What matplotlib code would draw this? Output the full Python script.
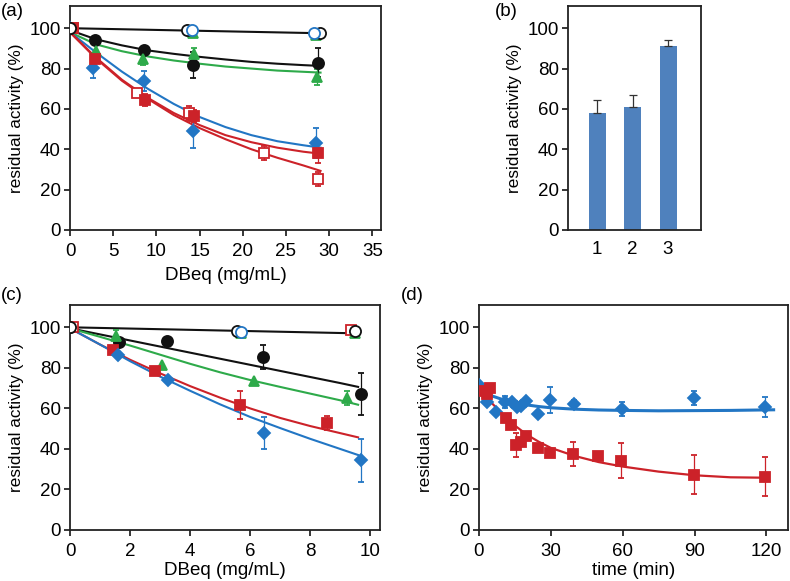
import matplotlib
matplotlib.use("Agg")
import matplotlib.pyplot as plt
import numpy as np

plt.rcParams['font.family'] = ['Liberation Sans', 'DejaVu Sans']

BLACK = '#111111'
BLUE = '#2276c4'
RED = '#cc2229'
GREEN = '#2eaa4a'
BAR = '#4f81bd'

# ---------------- Panel (a) data ----------------
a_flat_x = [0, 29]
a_flat_y = [100, 97.5]
a_open_black_x = [0, 13.6, 28.9]
a_open_black_y = [100, 99.2, 97.7]
a_open_blue_x = [14.1, 28.3]
a_open_blue_y = [99.0, 97.5]
a_green_flat_x = [14.2, 28.5]
a_green_flat_y = [97.5, 96.5]

a_black_x = [0, 2.9, 8.6, 14.2, 28.7]
a_black_y = [100, 94.3, 89.4, 81.8, 83.0]
a_black_e = [0, 0, 0, 6.5, 7]
a_green_x = [0, 3.0, 8.5, 14.3, 28.6]
a_green_y = [100, 88.6, 84.8, 87.0, 75.7]
a_green_e = [0, 0, 3, 3, 4]
a_blue_x = [0, 2.7, 8.6, 14.2, 28.5]
a_blue_y = [100, 80.5, 73.8, 49.3, 43.2]
a_blue_e = [0, 5, 5, 8.5, 7.5]
a_red_x = [0.3, 2.9, 8.7, 14.4, 28.7]
a_red_y = [100, 84.7, 64.2, 56.3, 38.3]
a_red_e = [0, 0, 3, 3, 5]
a_redo_x = [0.3, 7.8, 13.8, 22.5, 28.7]
a_redo_y = [100, 67.8, 57.9, 38.3, 25.3]
a_redo_e = [0, 0, 3.5, 3.5, 3.5]

a_fit_x = [0, 3, 6, 9, 12, 15, 18, 21, 24, 27, 29]
a_fit_black = [99, 94.5, 91.5, 89, 87.3, 85.8, 84.5, 83.3, 82.4, 81.7, 81.3]
a_fit_green = [98, 92, 88.6, 86, 84, 82.4, 81, 80, 79, 78.4, 78]
a_fit_blue = [98, 88, 78.5, 70, 62.5, 56, 51, 47, 44, 42, 40.8]
a_fit_red = [98, 85.5, 74.5, 65.5, 58, 52, 47, 43.5, 40.8, 38.8, 37.8]
a_fit_redo = [98, 85, 74, 65, 57, 50.5, 45, 40, 35.8, 32, 29.3]

# ---------------- Panel (b) data ----------------
b_cats = ['1', '2', '3']
b_vals = [58, 61, 91]
b_err = [6.5, 6, 3]

# ---------------- Panel (c) data ----------------
c_flat_x = [0, 9.6]
c_flat_y = [100, 97]
c_open_black_x = [0, 5.58, 9.5]
c_open_black_y = [100, 98.2, 98.2]
c_open_blue_x = [5.69]
c_open_blue_y = [97.9]
c_open_red_x = [0.1, 9.36]
c_open_red_y = [100, 98.8]
c_green_flat_x = [5.7, 9.5]
c_green_flat_y = [97.0, 97.3]

c_black_x = [0, 1.63, 3.22, 6.44, 9.7]
c_black_y = [100, 92.8, 93.4, 85.2, 67.0]
c_black_e = [0, 0, 0, 6, 10.3]
c_green_x = [1.54, 3.08, 6.13, 9.22]
c_green_y = [95.7, 81.4, 73.3, 65.2]
c_green_e = [3, 0, 0, 3.5]
c_red_x = [1.44, 2.83, 5.67, 8.56]
c_red_y = [88.6, 78.6, 61.6, 52.6]
c_red_e = [0, 0, 7, 3.5]
c_blue_x = [1.6, 3.26, 6.47, 9.69]
c_blue_y = [86.3, 73.8, 47.8, 34.4]
c_blue_e = [0, 0, 8, 10.7]

c_fit_x = [0, 1, 2, 3, 4, 5, 6, 7, 8, 9, 9.6]
c_fit_black = [99.5, 96.5, 93.5, 90.5, 87.5, 84.5, 81.5, 78.5, 75.5, 72.5, 70.6]
c_fit_green = [99.5, 95.3, 91, 86.5, 82, 77.8, 74, 70.6, 67.3, 64, 61.8]
c_fit_red = [99.5, 91.5, 84, 77.3, 71, 65.3, 60, 55.3, 51.3, 47.8, 45.7]
c_fit_blue = [99.5, 91.5, 83.3, 75.7, 68.7, 62, 55.8, 50.3, 45, 40, 37]

# ---------------- Panel (d) data ----------------
d_blue_x = [0, 3.5, 7.3, 11, 13.6, 15.8, 17.6, 19.7, 24.8, 29.8, 39.5, 59.7, 89.6, 119.5]
d_blue_y = [71.4, 63, 58.2, 63.2, 63.2, 60.5, 61.2, 63.5, 57.4, 64.1, 62, 59.7, 65, 60.8]
d_blue_e = [0, 0, 0, 3, 0, 0, 0, 0, 0, 6.5, 2, 3.3, 3.5, 5]
d_red_x = [0.5, 3.5, 4.8, 11.2, 13.4, 15.5, 17.4, 19.7, 24.6, 29.7, 39.4, 49.7, 59.3, 89.6, 119.5]
d_red_y = [68.6, 67.3, 70.1, 55.2, 51.6, 42.1, 43.3, 46.6, 40.7, 38.2, 37.4, 36.5, 34.2, 27.3, 26.3]
d_red_e = [0, 0, 0, 0, 0, 6, 0, 0, 0, 0, 6, 0, 8.7, 9.5, 9.5]

d_fit_x = [0, 5, 10, 15, 20, 25, 30, 40, 50, 60, 75, 90, 105, 123]
d_fit_blue = [69, 66.3, 64.3, 62.8, 61.7, 60.9, 60.3, 59.6, 59.2, 59, 58.8, 58.9, 59.0, 59.3]
d_fit_red_x = [0, 5, 10, 15, 20, 25, 30, 40, 50, 60, 75, 90, 105, 119]
d_fit_red = [69.5, 63, 57, 51.5, 47, 43.5, 40.5, 36.5, 33.5, 31.3, 28.8, 27, 26, 25.8]

W, H = 790, 581
fig = plt.figure(figsize=(W / 100, H / 100), dpi=100)

def box(l, r, t, b):
    return [l / W, 1 - b / H, (r - l) / W, (b - t) / H]

ax_a = fig.add_axes(box(70, 381, 6, 230))
ax_b = fig.add_axes(box(568, 701, 6, 230))
ax_c = fig.add_axes(box(70, 380, 305, 530))
ax_d = fig.add_axes(box(479, 788, 305, 530))

TICK_FS = 13.5
XLAB_FS = 13.5
YLAB_FS = 12.3

def style(ax):
    for s in ax.spines.values():
        s.set_linewidth(1.3)
        s.set_color('#222222')
    ax.tick_params(direction='out', length=4, width=1.1, labelsize=TICK_FS)
    ax.tick_params(axis='y', pad=2.5)
    ax.tick_params(axis='x', pad=5.5)
    ax.set_ylim(0, 111)
    ax.set_yticks([0, 20, 40, 60, 80, 100])
    ax.set_ylabel('residual activity (%)', fontsize=YLAB_FS, labelpad=4)

LW = 1.5
MS = 7

def pts(ax, x, y, e, marker, color, face=None, ms=MS, z=3):
    face = color if face is None else face
    ax.errorbar(x, y, yerr=e, fmt=marker, color=color, mfc=face, mec=color,
                ms=ms, mew=1.3, elinewidth=0.9, capsize=2.5, capthick=0.9, zorder=z)

# ---- (a)
ax = ax_a
style(ax)
ax.plot(a_flat_x, a_flat_y, color=BLACK, lw=LW, zorder=2)
ax.plot(a_fit_x, a_fit_black, color=BLACK, lw=LW, zorder=2)
ax.plot(a_fit_x, a_fit_green, color=GREEN, lw=LW, zorder=2)
ax.plot(a_fit_x, a_fit_blue, color=BLUE, lw=LW, zorder=2)
ax.plot(a_fit_x, a_fit_red, color=RED, lw=LW, zorder=2)
ax.plot(a_fit_x, a_fit_redo, color=RED, lw=LW, zorder=2)
pts(ax, a_green_flat_x, a_green_flat_y, None, '^', GREEN)
pts(ax, a_black_x, a_black_y, a_black_e, 'o', BLACK, ms=8)
pts(ax, a_green_x, a_green_y, a_green_e, '^', GREEN)
pts(ax, a_blue_x, a_blue_y, a_blue_e, 'D', BLUE, ms=6.5)
pts(ax, a_redo_x, a_redo_y, a_redo_e, 's', RED, face='white')
pts(ax, a_red_x, a_red_y, a_red_e, 's', RED)
pts(ax, a_open_black_x, a_open_black_y, None, 'o', BLACK, face='white', ms=8)
pts(ax, a_open_blue_x, a_open_blue_y, None, 'o', BLUE, face='white', ms=8)
ax.set_xlim(0, 36)
ax.set_xticks([0, 5, 10, 15, 20, 25, 30, 35])
ax.set_xlabel('DBeq (mg/mL)', fontsize=XLAB_FS, labelpad=5)

# ---- (b)
ax = ax_b
style(ax)
xb = np.arange(1, len(b_cats) + 1)
ax.bar(xb, b_vals, width=0.48, color=BAR, zorder=2)
ax.errorbar(xb, b_vals, yerr=[np.zeros(len(b_err)), b_err], fmt='none',
            ecolor='#333333', elinewidth=0.9, capsize=3, capthick=0.9, zorder=3)
ax.set_xticks(xb)
ax.set_xticklabels(b_cats)
ax.set_xlim(0.18, 3.93)
ax.tick_params(axis='x', length=0, pad=8)

# ---- (c)
ax = ax_c
style(ax)
ax.plot(c_flat_x, c_flat_y, color=BLACK, lw=LW, zorder=2)
ax.plot(c_fit_x, c_fit_black, color=BLACK, lw=LW, zorder=2)
ax.plot(c_fit_x, c_fit_green, color=GREEN, lw=LW, zorder=2)
ax.plot(c_fit_x, c_fit_red, color=RED, lw=LW, zorder=2)
ax.plot(c_fit_x, c_fit_blue, color=BLUE, lw=LW, zorder=2)
pts(ax, c_green_flat_x, c_green_flat_y, None, '^', GREEN)
pts(ax, c_black_x, c_black_y, c_black_e, 'o', BLACK, ms=8)
pts(ax, c_green_x, c_green_y, c_green_e, '^', GREEN)
pts(ax, c_red_x, c_red_y, c_red_e, 's', RED)
pts(ax, c_blue_x, c_blue_y, c_blue_e, 'D', BLUE, ms=6.5)
pts(ax, c_open_red_x, c_open_red_y, None, 's', RED, face='white')
pts(ax, c_open_black_x, c_open_black_y, None, 'o', BLACK, face='white', ms=8)
pts(ax, c_open_blue_x, c_open_blue_y, None, 'o', BLUE, face='white', ms=8)
ax.set_xlim(0, 10.33)
ax.set_xticks([0, 2, 4, 6, 8, 10])
ax.set_xlabel('DBeq (mg/mL)', fontsize=XLAB_FS, labelpad=1)

# ---- (d)
ax = ax_d
style(ax)
ax.plot(d_fit_x, d_fit_blue, color=BLUE, lw=2.2, zorder=2)
ax.plot(d_fit_red_x, d_fit_red, color=RED, lw=1.6, zorder=2)
pts(ax, d_blue_x, d_blue_y, d_blue_e, 'D', BLUE, ms=6.5)
pts(ax, d_red_x, d_red_y, d_red_e, 's', RED)
ax.set_xlim(0, 129)
ax.set_xticks([0, 30, 60, 90, 120])
ax.set_xlabel('time (min)', fontsize=XLAB_FS, labelpad=1)

# panel letters
for txt, px, py in [('(a)', 1, 11), ('(b)', 495, 11), ('(c)', 1, 296), ('(d)', 401, 296)]:
    fig.text(px / W, 1 - py / H, txt, fontsize=13.5, ha='left', va='center')

fig.savefig('out.png', dpi=100)
